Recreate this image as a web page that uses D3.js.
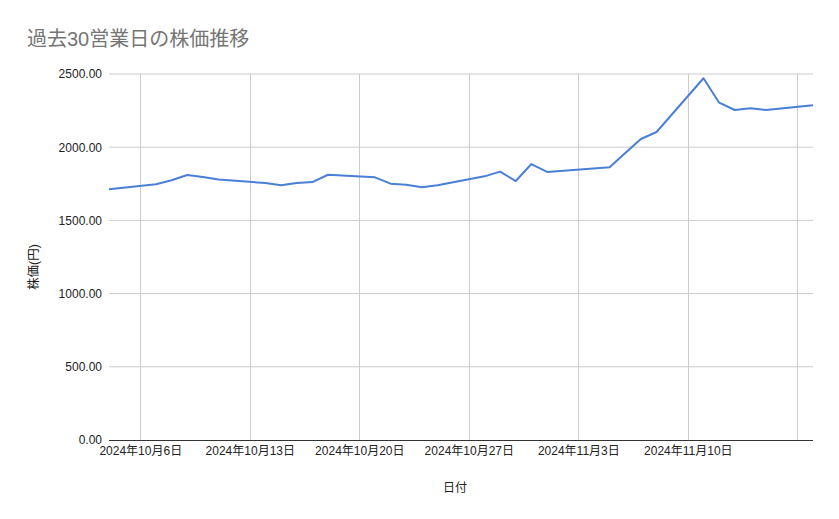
<!DOCTYPE html>
<html>
<head>
<meta charset="utf-8">
<script src="https://cdn.jsdelivr.net/npm/d3@7"></script>
<style>
    body { margin: 0; background: #fff; }
    text { font-family: "Liberation Sans", Arial, "Noto Sans CJK JP", sans-serif; }
</style>
</head>
<body>
<div id="chart"></div>
<script>

// trading days (Oct 14 and Nov 4 are holidays)
const dates = ["2024-10-04", "2024-10-07", "2024-10-08", "2024-10-09", "2024-10-10", "2024-10-11",
    "2024-10-14", "2024-10-15", "2024-10-16", "2024-10-17", "2024-10-18",
    "2024-10-21", "2024-10-22", "2024-10-23", "2024-10-24", "2024-10-25",
    "2024-10-28", "2024-10-29", "2024-10-30", "2024-10-31", "2024-11-01",
    "2024-11-05", "2024-11-06", "2024-11-07", "2024-11-08",
    "2024-11-11", "2024-11-12", "2024-11-13", "2024-11-14", "2024-11-15", "2024-11-18"]

const prices = [1712, 1747, 1774, 1810, 1796, 1779,
    1755, 1740, 1755, 1762, 1812,
    1794, 1751, 1744, 1726, 1740,
    1801, 1833, 1769, 1885, 1831,
    1863, 1960, 2056, 2104,
    2471, 2304, 2254, 2266, 2254, 2286]

const yTicks = [0, 500, 1000, 1500, 2000, 2500]
const xGridDates = ["2024-10-06", "2024-10-13", "2024-10-20", "2024-10-27", "2024-11-03", "2024-11-10", "2024-11-17"]
const xLabelDates = ["2024-10-06", "2024-10-13", "2024-10-20", "2024-10-27", "2024-11-03", "2024-11-10"]

const parseDate = d3.timeParse("%Y-%m-%d")

let width = 839, height = 519
let margin = { top: 74, right: 26, bottom: 79, left: 109 }
let innerW = width - margin.left - margin.right
let innerH = height - margin.top - margin.bottom

let svg = d3.select("#chart").append("svg")
    .attr("width", width)
    .attr("height", height)

// title
svg.append("text")
    .text("過去30営業日の株価推移")
    .attr("x", 27)
    .attr("y", 46)
    .attr("font-size", "20px")
    .attr("fill", "#757575")

let g = svg.append("g")
    .attr("transform", "translate(" + margin.left + "," + margin.top + ")")

// scales
let x = d3.scaleTime()
    .domain([parseDate(dates[0]), parseDate(dates[dates.length - 1])])
    .range([0, innerW])

let y = d3.scaleLinear()
    .domain([0, 2500])
    .range([innerH, 0])

// horizontal grid
g.selectAll(".hgrid")
    .data(yTicks.filter(d => d > 0))
    .enter().append("line")
    .attr("class", "hgrid")
    .attr("x1", 0)
    .attr("x2", innerW)
    .attr("y1", d => y(d))
    .attr("y2", d => y(d))
    .attr("stroke", "#cccccc")
    .attr("stroke-width", 1)

// vertical grid
g.selectAll(".vgrid")
    .data(xGridDates.map(parseDate))
    .enter().append("line")
    .attr("class", "vgrid")
    .attr("x1", d => Math.round(x(d)) + 0.5)
    .attr("x2", d => Math.round(x(d)) + 0.5)
    .attr("y1", 0)
    .attr("y2", innerH)
    .attr("stroke", "#cccccc")
    .attr("stroke-width", 1)

// y axis labels
let yAxis = d3.axisLeft(y)
    .tickValues(yTicks)
    .tickFormat(d3.format(".2f"))
    .tickSize(0)
    .tickPadding(7)

g.append("g")
    .attr("class", "y-axis")
    .call(yAxis)
    .call(a => a.select(".domain").remove())
    .selectAll("text")
    .attr("font-size", "12px")
    .attr("fill", "#222")

// x axis labels
let xAxis = d3.axisBottom(x)
    .tickValues(xLabelDates.map(parseDate))
    .tickFormat(d => d.getFullYear() + "年" + (d.getMonth() + 1) + "月" + d.getDate() + "日")
    .tickSize(0)
    .tickPadding(6)

g.append("g")
    .attr("class", "x-axis")
    .attr("transform", "translate(0," + innerH + ")")
    .call(xAxis)
    .call(a => a.select(".domain").remove())
    .selectAll("text")
    .attr("font-size", "12px")
    .attr("fill", "#222")

// baseline
g.append("line")
    .attr("x1", 0)
    .attr("x2", innerW)
    .attr("y1", y(0) + 0.5)
    .attr("y2", y(0) + 0.5)
    .attr("stroke", "#333")
    .attr("stroke-width", 1)

// price line
let series = dates.map((d, i) => ({ date: parseDate(d), price: prices[i] }))

let line = d3.line()
    .x(d => x(d.date))
    .y(d => y(d.price))

g.append("path")
    .datum(series)
    .attr("d", line)
    .attr("fill", "none")
    .attr("stroke", "#4a7fd6")
    .attr("stroke-width", 2)
    .attr("stroke-linejoin", "round")

// axis titles
svg.append("text")
    .text("日付")
    .attr("x", 455)
    .attr("y", 492)
    .attr("text-anchor", "middle")
    .attr("font-size", "12px")
    .attr("fill", "#222")

svg.append("text")
    .text("株価(円)")
    .attr("transform", "translate(38,267) rotate(-90)")
    .attr("text-anchor", "middle")
    .attr("font-size", "12.5px")
    .attr("fill", "#222")

</script>
</body>
</html>
